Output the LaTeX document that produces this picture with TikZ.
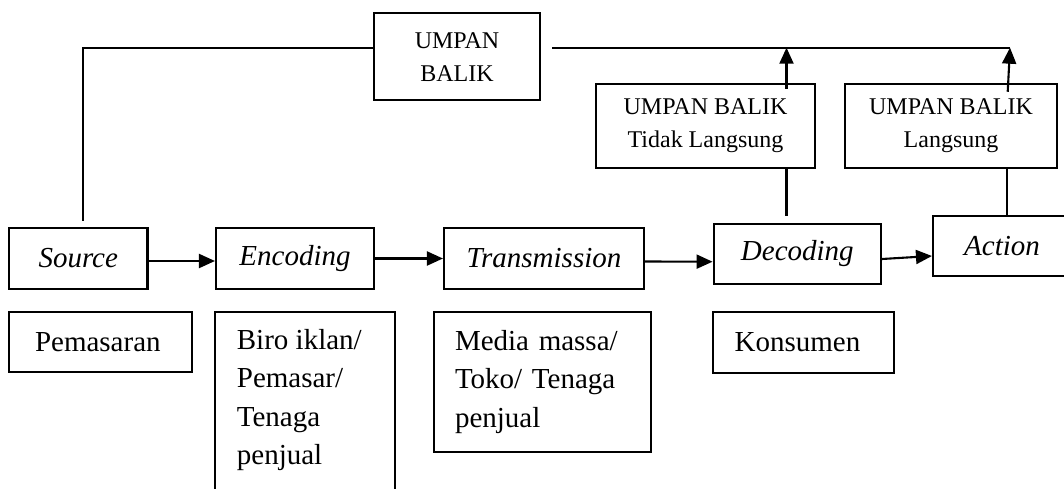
\documentclass[tikz,border=0pt]{standalone}
\usepackage{fontspec}
\setmainfont{Liberation Serif}
\usetikzlibrary{arrows.meta}
\begin{document}
\begin{tikzpicture}[x=1pt,y=-1pt,
  box/.style={draw,line width=2.1pt,inner sep=0pt},
  lower/.style={font=\fontsize{29}{38.5}\selectfont},
  upper/.style={font=\fontsize{24}{33}\selectfont},
  conn/.style={line width=2.1pt},
  arr/.style={conn,-{Triangle[length=16pt,width=14pt]}}]
\useasboundingbox (0,0) rectangle (1064,489);
% feedback boxes
\node[box,upper,align=center,minimum width=166,minimum height=87] (fb) at (457,56.7) {UMPAN\\BALIK};
\node[box,upper,align=center,minimum width=219,minimum height=84] (tl) at (705.5,125.8) {UMPAN BALIK\\Tidak Langsung};
\node[box,upper,align=center,minimum width=212,minimum height=84] (l) at (951,125.8) {UMPAN BALIK\\Langsung};
% main row
\node[box,lower,minimum width=138.5,minimum height=61] (src) at (78.25,258.5) {\itshape Source};
\node[box,lower,minimum width=158,minimum height=61] (enc) at (295,258.5) {\itshape Encoding};
\node[box,lower,minimum width=200,minimum height=61] (tra) at (544,258.5) {\itshape Transmission};
\node[box,lower,minimum width=167.4,minimum height=60] (dec) at (797.3,254) {\itshape Decoding};
\node[box,lower,minimum width=138,minimum height=60] (act) at (1002,246) {\itshape Action};
% lower row
\node[box,lower,minimum height=60,inner xsep=26pt,text width=131pt,align=left] (pem) at (100.5,341.7) {Pemasaran};
\node[box,minimum width=180,minimum height=208.3] (biro) at (305,415.85) {};
\node[lower,inner sep=0pt,anchor=north west,align=left] (birotext) at (236.7,329) {Biro iklan/\\Pemasar/\\Tenaga\\penjual};
\node[box,lower,minimum height=140,inner xsep=21pt,text width=175pt,align=left] (med) at (542.5,382) {Media massa/\\Toko/ Tenaga\\penjual};
\node[box,lower,minimum height=61,inner xsep=22pt,text width=137pt,align=left] (kon) at (803.15,342.2) {Konsumen};
% coordinates on the top line
\coordinate (j1) at (786.5,47.7);
\coordinate (j2) at (1010,47.7);
\coordinate (t0) at (552,47.7);
% connectors
\draw[conn] (fb.west |- j1) -| ([xshift=4.75pt,yshift=6.3pt]src.north);
\draw[conn] (t0) -- (j2);
\draw[arr] ([xshift=81pt,yshift=-6pt]tl.north) -- (j1);
\draw[arr] ([xshift=56.7pt,yshift=-9pt]l.north) -- (j2);
\draw[conn] ([xshift=81pt]tl.south) -- ([xshift=-10.8pt,yshift=7.3pt]dec.north);
\draw[conn] ([xshift=56pt]l.south) -- ([xshift=5pt]act.north);
\draw[arr] ([yshift=-2.5pt]src.east) -- ([yshift=-2.5pt]enc.west);
\draw[arr] (enc.east) -- (tra.west);
\draw[arr] ([yshift=-3pt]tra.east) -- ([yshift=-7.7pt]dec.west);
\draw[arr] ([yshift=-5pt]dec.east) -- ([yshift=-10pt]act.west);
\end{tikzpicture}
\end{document}
